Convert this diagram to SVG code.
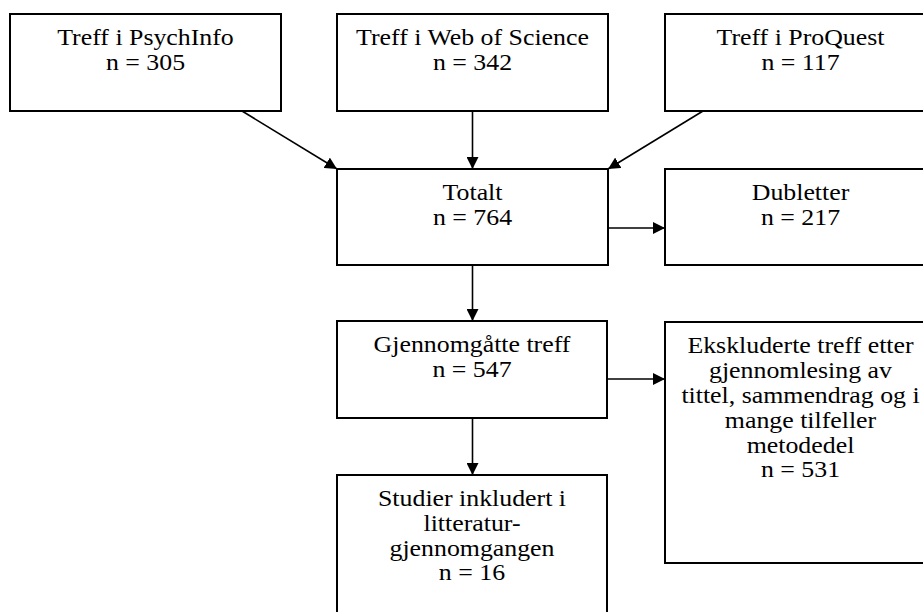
<svg xmlns="http://www.w3.org/2000/svg" width="923" height="612" viewBox="0 0 923 612">
<style>
.box{fill:#fff;stroke:#000;stroke-width:2}
.t{font-family:"Liberation Serif","Times New Roman",serif;font-size:23.5px;fill:#000;text-anchor:middle}
.c{stroke:#000;stroke-width:1.6;fill:none;marker-end:url(#ah)}
</style>
<defs>
<marker id="ah" markerUnits="userSpaceOnUse" markerWidth="12" markerHeight="12" refX="12" refY="6" orient="auto">
<path d="M0,0 L12,6 L0,12 z" fill="#000"/>
</marker>
</defs>
<rect width="923" height="612" fill="#fff"/>
<g id="connectors">
<line class="c" x1="242" y1="111" x2="337" y2="169"/>
<line class="c" x1="472.5" y1="111" x2="472.5" y2="169"/>
<line class="c" x1="703" y1="111" x2="608" y2="169"/>
<line class="c" x1="608" y1="228" x2="665" y2="228"/>
<line class="c" x1="472.5" y1="265" x2="472.5" y2="321"/>
<line class="c" x1="607" y1="379" x2="665" y2="379"/>
<line class="c" x1="472.5" y1="418" x2="472.5" y2="475"/>
</g>
<g id="psychinfo">
<rect class="box" x="10" y="14" width="271" height="97"/>
<g transform="translate(145.5,0) scale(1.1,1)">
<text class="t" x="0" y="45">Treff i PsychInfo</text>
<text class="t" x="0" y="70">n = 305</text>
</g>
</g>
<g id="wos">
<rect class="box" x="337" y="14" width="271" height="97"/>
<g transform="translate(472.5,0) scale(1.1,1)">
<text class="t" x="0" y="45">Treff i Web of Science</text>
<text class="t" x="0" y="70">n = 342</text>
</g>
</g>
<g id="proquest">
<rect class="box" x="665" y="14" width="271" height="97"/>
<g transform="translate(800.5,0) scale(1.1,1)">
<text class="t" x="0" y="45">Treff i ProQuest</text>
<text class="t" x="0" y="70">n = 117</text>
</g>
</g>
<g id="totalt">
<rect class="box" x="337" y="169" width="271" height="96"/>
<g transform="translate(472.5,0) scale(1.1,1)">
<text class="t" x="0" y="200">Totalt</text>
<text class="t" x="0" y="225">n = 764</text>
</g>
</g>
<g id="dubletter">
<rect class="box" x="665" y="169" width="271" height="96"/>
<g transform="translate(800.5,0) scale(1.1,1)">
<text class="t" x="0" y="200">Dubletter</text>
<text class="t" x="0" y="225">n = 217</text>
</g>
</g>
<g id="gjennomgatte">
<rect class="box" x="337" y="321" width="270" height="97"/>
<g transform="translate(472,0) scale(1.1,1)">
<text class="t" x="0" y="352">Gjennomgåtte treff</text>
<text class="t" x="0" y="377">n = 547</text>
</g>
</g>
<g id="ekskluderte">
<rect class="box" x="665" y="322" width="271" height="241"/>
<g transform="translate(800.5,0) scale(1.1,1)">
<text class="t" x="0" y="353">Ekskluderte treff etter</text>
<text class="t" x="0" y="378">gjennomlesing av</text>
<text class="t" x="0" y="403">tittel, sammendrag og i</text>
<text class="t" x="0" y="428">mange tilfeller</text>
<text class="t" x="0" y="453">metodedel</text>
<text class="t" x="0" y="477">n = 531</text>
</g>
</g>
<g id="studier">
<rect class="box" x="337" y="475" width="270" height="150"/>
<g transform="translate(472,0) scale(1.1,1)">
<text class="t" x="0" y="506">Studier inkludert i</text>
<text class="t" x="0" y="531">litteratur-</text>
<text class="t" x="0" y="556">gjennomgangen</text>
<text class="t" x="0" y="580">n = 16</text>
</g>
</g>
</svg>
